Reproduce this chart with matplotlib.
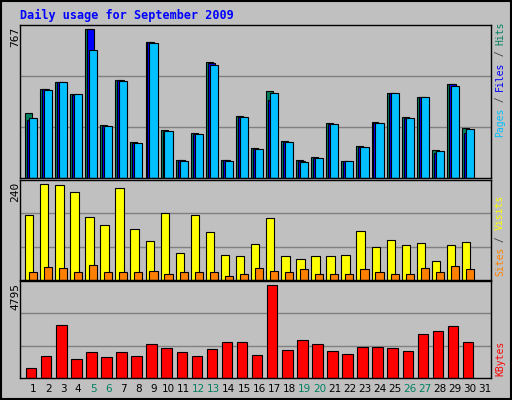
import matplotlib
matplotlib.use("Agg")
import matplotlib.pyplot as plt
import numpy as np

days = list(range(1, 32))
hits  = [335,460,498,434,767,272,507,184,704,246,95,231,597,95,319,154,451,189,95,108,283,90,163,288,439,314,418,142,486,257]
files = [300,457,495,431,767,269,504,181,701,243,92,228,594,92,316,151,404,186,90,105,280,90,160,283,439,311,418,127,483,231]
pages = [309,455,498,434,663,267,501,179,699,241,90,226,585,90,314,149,439,184,85,102,278,90,158,283,439,309,418,137,475,252]
visits = [162,240,237,219,157,136,229,126,97,167,66,162,120,63,61,89,154,61,53,61,61,63,123,81,100,87,92,48,87,94]
sites = [19,32,29,19,37,19,19,19,22,16,19,19,19,11,16,29,22,19,27,16,14,14,27,19,14,16,29,19,35,27]
kbytes = [490,1120,2748,963,1330,1068,1330,1120,1750,1540,1330,1120,1488,1855,1855,1173,4795,1435,1960,1750,1383,1225,1593,1593,1540,1383,2275,2433,2695,1855]
weekend = [5,6,12,13,19,20,26,27]

BG = "#c0c0c0"
W, H = 512, 400
fig = plt.figure(figsize=(5.12, 4.0), dpi=100, facecolor=BG)
mono = "DejaVu Sans Mono"

def ax_at(x0, y0, x1, y1):
    return fig.add_axes([x0 / W, 1 - y1 / H, (x1 - x0) / W, (y1 - y0) / H], facecolor=BG)

n = len(hits)
x = np.arange(1, n + 1)
XL = (0.14, 31.4)
ek = dict(edgecolor="black", linewidth=0.8)

def style(ax, top):
    ax.set_xlim(*XL)
    ax.set_ylim(0, top)
    ax.set_xticks([]); ax.set_yticks([])
    for g in (top / 3, 2 * top / 3):
        ax.axhline(g, color="#808080", lw=1, zorder=0)
    for s in ax.spines.values():
        s.set_color("black"); s.set_linewidth(1)

a1 = ax_at(20, 25, 491, 178)
a1.bar(x - 0.53, hits, width=0.46, align="edge", color="#008060", **ek)
a1.bar(x - 0.40, files, width=0.46, align="edge", color="#0000ff", **ek)
a1.bar(x - 0.27, pages, width=0.54, align="edge", color="#00c0ff", **ek)
style(a1, 790)

a2 = ax_at(20, 180, 491, 280)
a2.bar(x - 0.53, visits, width=0.56, align="edge", color="#ffff00", **ek)
a2.bar(x - 0.27, sites, width=0.54, align="edge", color="#ff8000", **ek)
style(a2, 249)

a3 = ax_at(20, 281, 491, 378)
a3.bar(x - 0.47, kbytes, width=0.70, align="edge", color="#ff0000", **ek)
style(a3, 4988)

fig.text(20 / W, 1 - 15 / H, "Daily usage for September 2009", color="#0000ff",
         fontsize=8.5, fontweight="bold", family=mono, va="center", ha="left")

for lab, ytop in (("767", 27), ("240", 182), ("4795", 283)):
    fig.text(15 / W, 1 - ytop / H, lab, rotation=90, fontsize=8, family=mono,
             va="top", ha="center", color="black")

for d in days:
    xd = 33 + 15.07 * (d - 1)
    fig.text(xd / W, 1 - 389 / H, str(d), fontsize=7.5, ha="center", va="center",
             color="#008060" if d in weekend else "black")

def side(parts, ybottom):
    y = ybottom
    for t, c in parts:
        fig.text(500 / W, 1 - y / H, t, rotation=90, fontsize=7, family=mono,
                 color=c, ha="center", va="bottom")
        y -= 5.4 * len(t) + 1.5
side([("Pages", "#00c0ff"), (" / ", "#404040"), ("Files", "#0000ff"), (" / ", "#404040"), ("Hits", "#008060")], 137)
side([("Sites", "#ff8000"), (" / ", "#404040"), ("Visits", "#ffff00")], 276)
side([("KBytes", "#ff0000")], 376)

fig.patches.append(plt.Rectangle((0.002, 0.002), 0.996, 0.996, transform=fig.transFigure,
                                 fill=False, edgecolor="black", lw=1.5))
fig.savefig("out.png", dpi=100, facecolor=BG)
